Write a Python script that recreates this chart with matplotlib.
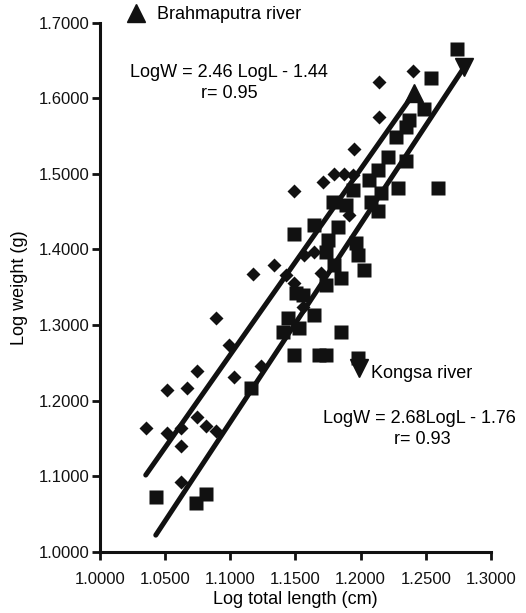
import matplotlib
matplotlib.use("Agg")
import matplotlib.pyplot as plt
import numpy as np

plt.rcParams["font.family"] = ["Liberation Sans", "DejaVu Sans"]

# Brahmaputra river (diamonds)
brah_x = [1.2138, 1.2398, 1.2138, 1.1949, 1.1797, 1.1869, 1.1708, 1.1939,
          1.1490, 1.1912, 1.1567, 1.1644, 1.1695, 1.1336, 1.1171, 1.1426,
          1.1554, 1.0889, 1.0991, 1.0743, 1.1029, 1.0512, 1.0671, 1.1234,
          1.0745, 1.0816, 1.0889, 1.0351, 1.0515, 1.0624, 1.0625, 1.0620,
          1.1490]
brah_y = [1.6220, 1.6358, 1.5750, 1.5327, 1.5005, 1.5005, 1.4894, 1.4983,
          1.4775, 1.4454, 1.3925, 1.3968, 1.3683, 1.3792, 1.3673, 1.3660,
          1.3241, 1.3087, 1.2734, 1.2394, 1.2311, 1.2139, 1.2161, 1.2456,
          1.1782, 1.1669, 1.1597, 1.1636, 1.1566, 1.1636, 1.1405, 1.0922,
          1.3550]

# Kongsa river (squares)
kong_x = [1.2740, 1.2540, 1.2488, 1.2373, 1.2348, 1.2271, 1.2212, 1.2348,
          1.2135, 1.2289, 1.2591, 1.2066, 1.1939, 1.2156, 1.1785, 1.1887,
          1.2079, 1.2131, 1.1644, 1.1823, 1.1747, 1.1964, 1.1977, 1.2023,
          1.1733, 1.1797, 1.1849, 1.1490, 1.1503, 1.1554, 1.1733, 1.1439,
          1.1644, 1.1401, 1.1528, 1.1849, 1.1490, 1.1682, 1.1733, 1.1977,
          1.1157, 1.0428, 1.0812, 1.0735]
kong_y = [1.6646, 1.6266, 1.5856, 1.5710, 1.5622, 1.5489, 1.5225, 1.5172,
          1.5049, 1.4807, 1.4807, 1.4917, 1.4784, 1.4741, 1.4630, 1.4586,
          1.4630, 1.4511, 1.4321, 1.4299, 1.4123, 1.4079, 1.3925, 1.3726,
          1.3968, 1.3792, 1.3620, 1.4202, 1.3420, 1.3396, 1.3528, 1.3087,
          1.3131, 1.2910, 1.2955, 1.2910, 1.2602, 1.2602, 1.2602, 1.2562,
          1.2161, 1.0720, 1.0763, 1.0640]

# regression lines (end points)
brah_line_x = [1.0351, 1.2409]
brah_line_y = [1.1015, 1.6067]
kong_line_x = [1.0428, 1.2794]
kong_line_y = [1.0220, 1.6410]

x_ticks = np.arange(1.0, 1.30001, 0.05)
y_ticks = np.arange(1.0, 1.70001, 0.1)

INK = "#111111"

fig = plt.figure(figsize=(5.26, 6.13), dpi=100)
ax = fig.add_axes([0.1901, 0.0999, 0.7433, 0.8630])

ax.plot(brah_x, brah_y, "D", color=INK, ms=7.6, mec="none", zorder=3)
ax.plot(kong_x, kong_y, "s", color=INK, ms=9.5, mec="none", zorder=3)

ax.plot(brah_line_x, brah_line_y, color=INK, lw=3.6, solid_capstyle="round", zorder=4)
ax.plot(kong_line_x, kong_line_y, color=INK, lw=3.6, solid_capstyle="round", zorder=4)
ax.plot(brah_line_x[-1], brah_line_y[-1], "^", color=INK, ms=13, zorder=5)
ax.plot(kong_line_x[-1], kong_line_y[-1], "v", color=INK, ms=13, zorder=5)

# legend-like annotations
ax.plot(1.0275, 1.7126, "^", color=INK, ms=13, clip_on=False)
ax.text(1.0436, 1.7110, "Brahmaputra river", fontsize=13, va="center", ha="left")
ax.text(1.0989, 1.6345, "LogW = 2.46 LogL - 1.44", fontsize=13, va="center", ha="center")
ax.text(1.0989, 1.6068, "r= 0.95", fontsize=13, va="center", ha="center")

ax.plot(1.1988, 1.2430, "v", color=INK, ms=13)
ax.text(1.2080, 1.2364, "Kongsa river", fontsize=13, va="center", ha="left")
ax.text(1.1710, 1.1766, "LogW = 2.68LogL - 1.76", fontsize=13, va="center", ha="left")
ax.text(1.2470, 1.1480, "r= 0.93", fontsize=13, va="center", ha="center")

ax.set_xlim(1.0, 1.3)
ax.set_ylim(1.0, 1.7)
ax.set_xticks(x_ticks)
ax.set_yticks(y_ticks)
ax.set_xticklabels([f"{v:.4f}" for v in x_ticks])
ax.set_yticklabels([f"{v:.4f}" for v in y_ticks])
ax.tick_params(direction="out", length=5.5, width=2, labelsize=12, colors=INK)
ax.tick_params(axis="x", pad=9)
ax.tick_params(axis="y", pad=2)
for side in ("top", "right"):
    ax.spines[side].set_visible(False)
for side in ("left", "bottom"):
    ax.spines[side].set_linewidth(2.2)
    ax.spines[side].set_color(INK)

ax.set_xlabel("Log total length (cm)", fontsize=13, labelpad=3)
ax.set_ylabel("Log weight (g)", fontsize=13, labelpad=8)

fig.savefig("out.png", dpi=100)
